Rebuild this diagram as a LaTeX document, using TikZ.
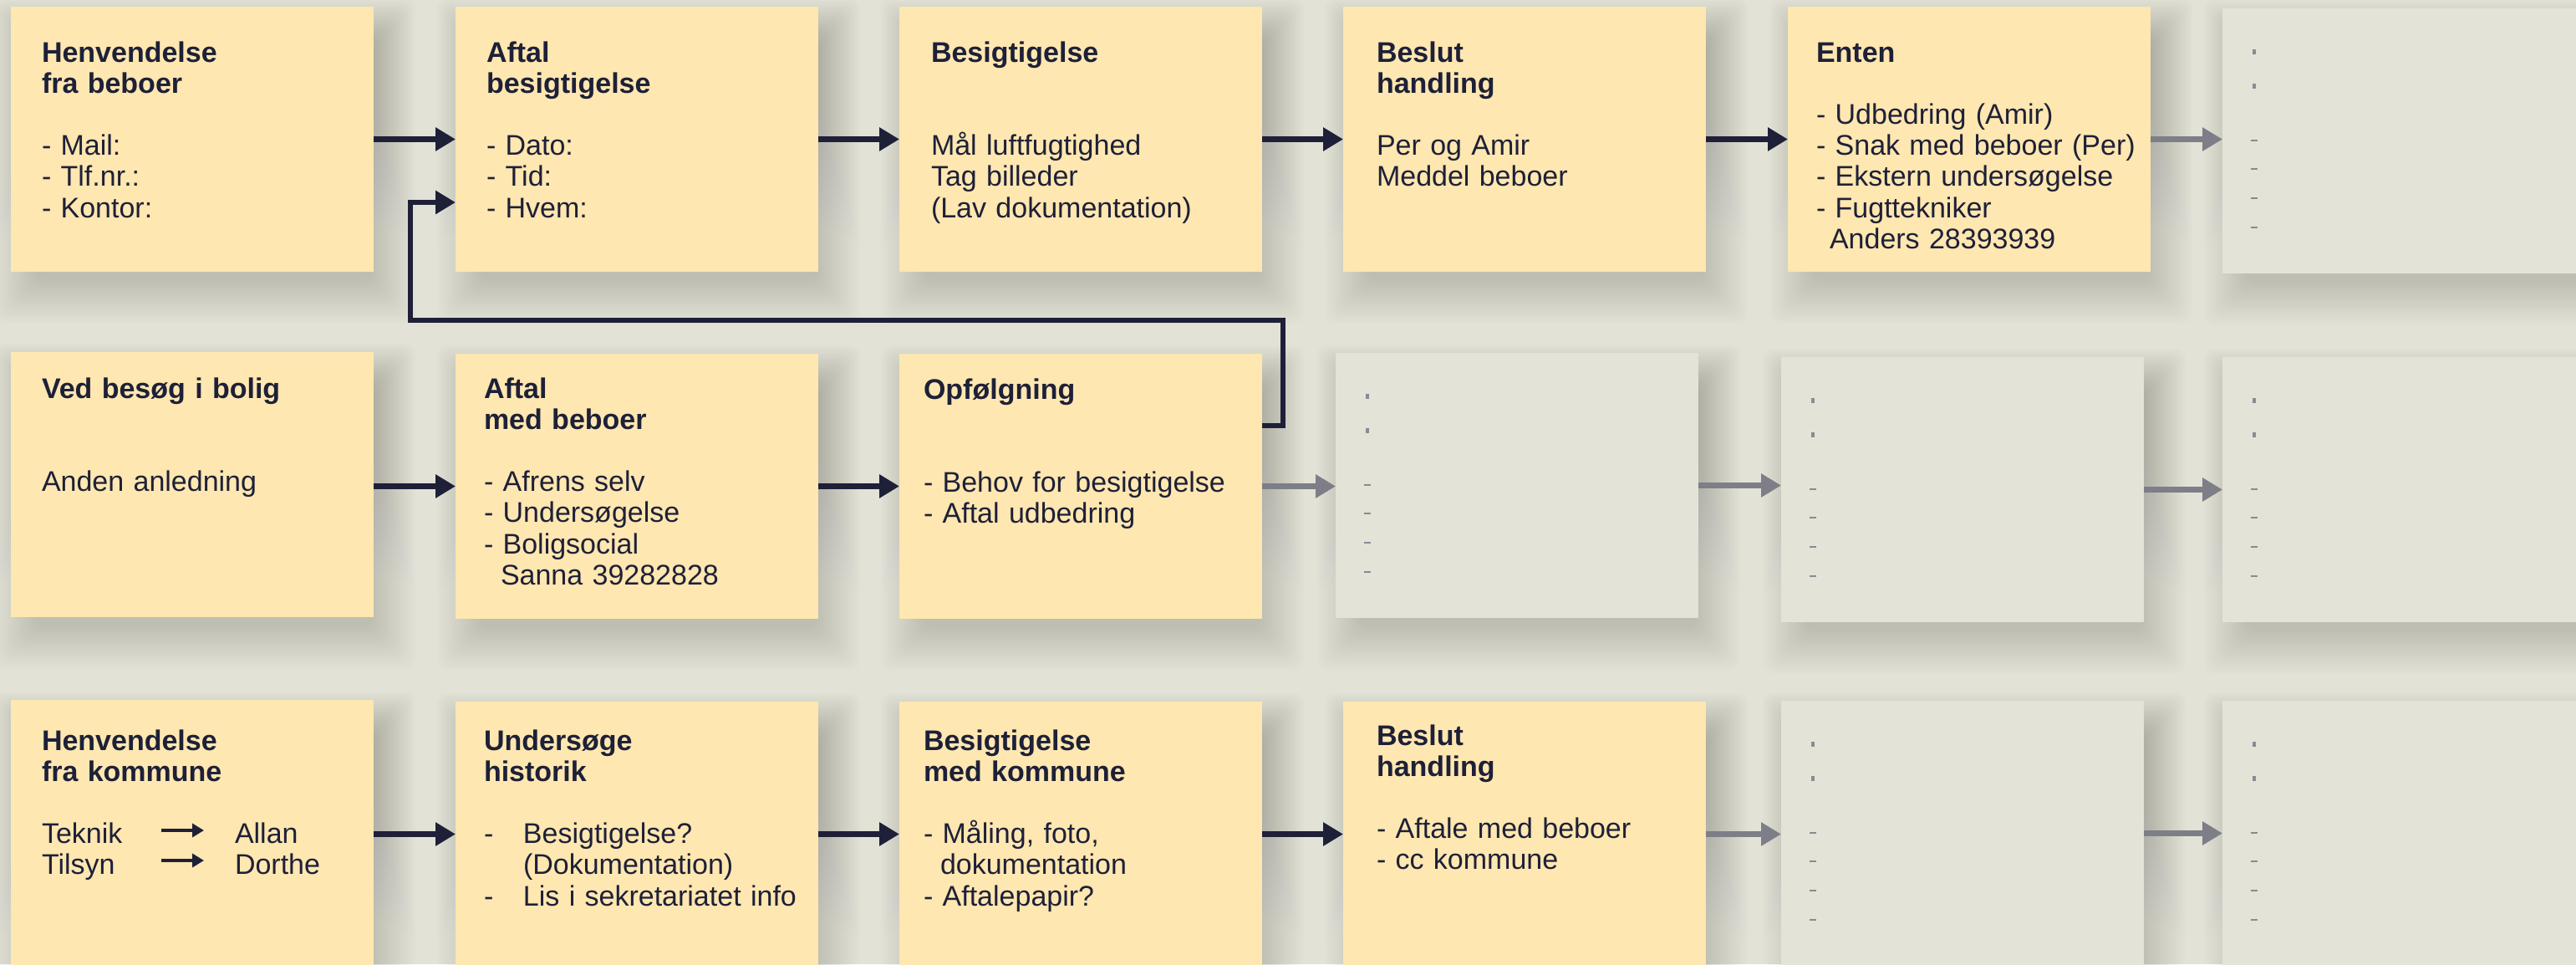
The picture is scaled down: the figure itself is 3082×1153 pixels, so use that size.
\documentclass[tikz,border=0pt]{standalone}
\usepackage{fontspec}
\setmainfont{Liberation Sans}
\usetikzlibrary{arrows.meta,calc}
\definecolor{bg}{HTML}{E2E2D6}
\definecolor{cardY}{HTML}{FEE7B0}
\definecolor{ghostG}{HTML}{E3E3D7}
\definecolor{ink}{HTML}{1E2038}
\definecolor{arrG}{HTML}{7E7E88}
\definecolor{markG}{HTML}{8A8A94}
\definecolor{shade}{HTML}{4A4A30}
\tikzset{
  card/.style={rectangle, fill=cardY, draw=none, minimum width=217pt, minimum height=158.5pt, anchor=north west, inner sep=0pt, outer sep=0pt},
  ghost/.style={card, fill=ghostG},
  txt/.style={anchor=base west, inner sep=0pt, outer sep=0pt, text width=215pt, align=left, text=ink, font={\fontsize{17}{18.6}\selectfont}},
  flow/.style={draw=ink, line width=3.2pt, -{Triangle[length=12pt,width=13.5pt]}},
  flowg/.style={flow, draw=arrG},
  mini/.style={draw=ink, line width=2pt, -{Triangle[length=7pt,width=8pt]}},
}
\newcommand\hd[1]{\textbf{#1}}
\newcommand\dropshade[2]{%
  \foreach \e in {-15,-12,...,36}{%
    \fill[shade, fill opacity=#2, rounded corners=6pt]
      ($(#1.north west)+({14-(\e)},{26-(\e)})$) rectangle ($(#1.south east)+({14+(\e)},{26+(\e)})$);
  }}
\newcommand\ghostmarks[1]{%
  \foreach \yy in {52,93}{%
    \fill[markG] ($(#1.north west)+({35.75},{\yy-3})$) rectangle ($(#1.north west)+({40.25},{\yy+3})$);}
  \foreach \yy in {158,192,227,262}{%
    \fill[markG] ($(#1.north west)+({34},{\yy-1.25})$) rectangle ($(#1.north west)+({42},{\yy+1.25})$);}
}
\begin{document}
\begin{tikzpicture}[x=0.5pt,y=-0.5pt]
\useasboundingbox (0,0) rectangle (3082,1153);
\clip (0,0) rectangle (3082,1153);
\fill[bg] (0,0) rectangle (3082,1153);

% cards (named, used for connectors)
\node[card]  (b11) at (13,8) {};
\node[card]  (b12) at (545,8) {};
\node[card]  (b13) at (1076,8) {};
\node[card]  (b14) at (1607,8) {};
\node[card]  (b15) at (2139,8) {};
\node[ghost] (g16) at (2659,10) {};
\node[card]  (b21) at (13,421) {};
\node[card]  (b22) at (545,423) {};
\node[card]  (b23) at (1076,423) {};
\node[ghost] (g24) at (1598,422) {};
\node[ghost] (g25) at (2131,427) {};
\node[ghost] (g26) at (2659,427) {};
\node[card]  (b31) at (13,837) {};
\node[card]  (b32) at (545,839) {};
\node[card]  (b33) at (1076,839) {};
\node[card]  (b34) at (1607,839) {};
\node[ghost] (g35) at (2131,838) {};
\node[ghost] (g36) at (2659,838) {};

% soft shadows
\foreach \n in {b11,b12,b13,b14,b15,b21,b22,b23,b31,b32,b33,b34}{\dropshade{\n}{0.009}}
\foreach \n in {g16,g24,g25,g26,g35,g36}{\dropshade{\n}{0.007}}

% cards again, above the shadows
\foreach \p/\s in {{(13,8)}/card,{(545,8)}/card,{(1076,8)}/card,{(1607,8)}/card,{(2139,8)}/card,{(2659,10)}/ghost,
  {(13,421)}/card,{(545,423)}/card,{(1076,423)}/card,{(1598,422)}/ghost,{(2131,427)}/ghost,{(2659,427)}/ghost,
  {(13,837)}/card,{(545,839)}/card,{(1076,839)}/card,{(1607,839)}/card,{(2131,838)}/ghost,{(2659,838)}/ghost}{
  \node[\s] at \p {};
}

% texts row 1
\node[txt] (t11) at (50,74) {\hd{Henvendelse}\\\hd{fra beboer}\\[18.6pt]- Mail:\\- Tlf.nr.:\\- Kontor:};
\node[txt] (t12) at (582,74) {\hd{Aftal}\\\hd{besigtigelse}\\[18.6pt]- Dato:\\- Tid:\\- Hvem:};
\node[txt] (t13) at (1114,74) {\hd{Besigtigelse}\\[37.2pt]Mål luftfugtighed\\Tag billeder\\(Lav dokumentation)};
\node[txt] (t14) at (1647,74) {\hd{Beslut}\\\hd{handling}\\[18.6pt]Per og Amir\\Meddel beboer};
\node[txt] (t15) at (2173,74) {\hd{Enten}\\[18.6pt]- Udbedring (Amir)\\- Snak med beboer (Per)\\- Ekstern undersøgelse\\- Fugttekniker\\\hspace*{8pt}Anders 28393939};

% texts row 2
\node[txt] (t21) at (50,476) {\hd{Ved besøg i bolig}\\[37.2pt]Anden anledning};
\node[txt] (t22) at (579,476) {\hd{Aftal}\\\hd{med beboer}\\[18.6pt]- Afrens selv\\- Undersøgelse\\- Boligsocial\\\hspace*{10pt}Sanna 39282828};
\node[txt] (t23) at (1105,477) {\hd{Opfølgning}\\[37.2pt]- Behov for besigtigelse\\- Aftal udbedring};

% texts row 3
\node[txt] (t31) at (50,897) {\hd{Henvendelse}\\\hd{fra kommune}\\[18.6pt]Teknik\\Tilsyn};
\node[txt] (t31b) at (281,1008) {Allan\\Dorthe};
\node[txt] (t32) at (579,897) {\hd{Undersøge}\\\hd{historik}\\[18.6pt]\makebox[23.5pt][l]{-}Besigtigelse?\\\hspace*{23.5pt}(Dokumentation)\\\makebox[23.5pt][l]{-}Lis i sekretariatet info};
\node[txt] (t33) at (1105,897) {\hd{Besigtigelse}\\\hd{med kommune}\\[18.6pt]- Måling, foto,\\\hspace*{10pt}dokumentation\\- Aftalepapir?};
\node[txt] (t34) at (1647,891) {\hd{Beslut}\\\hd{handling}\\[18.6pt]- Aftale med beboer\\- cc kommune};

% ghost marks
\foreach \g in {g16,g24,g25,g26,g35,g36}{\ghostmarks{\g}}

% small arrows in b31
\coordinate (m1a) at (193,993);
\coordinate (m1b) at (244,993);
\coordinate (m2a) at (193,1029);
\coordinate (m2b) at (244,1029);
\draw[mini] (m1a) -- (m1b);
\draw[mini] (m2a) -- (m2b);

% main connectors
\draw[flow] (b11.east) -- (b12.west);
\draw[flow] (b12.east) -- (b13.west);
\draw[flow] (b13.east) -- (b14.west);
\draw[flow] (b14.east) -- (b15.west);
\draw[flowg] (b15.east) -- (g16.west |- b15.east);

\draw[flow] (b21.east |- b22.west) -- (b22.west);
\draw[flow] (b22.east) -- (b23.west);
\draw[flowg] (b23.east) -- (g24.west |- b23.east);
\draw[flowg] (g24.east) -- (g25.west |- g24.east);
\draw[flowg] (g25.east) -- (g26.west);

\draw[flow] (b31.east |- b32.west) -- (b32.west);
\draw[flow] (b32.east) -- (b33.west);
\draw[flow] (b33.east) -- (b34.west);
\draw[flowg] (b34.east) -- (g35.west |- b34.east);
\draw[flowg] (g35.east) -- (g36.west);

% feedback loop
\coordinate (fbA) at (1535,509);
\coordinate (fbB) at (1535,383);
\coordinate (fbC) at (491,383);
\coordinate (fbD) at (491,242);
\draw[flow] (b23.east |- fbA) -- (fbA) -- (fbB) -- (fbC) -- (fbD) -- (b12.west |- fbD);
\end{tikzpicture}
\end{document}
